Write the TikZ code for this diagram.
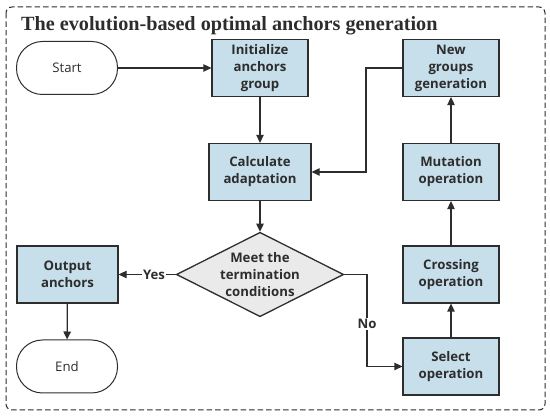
\documentclass[tikz,border=0pt]{standalone}
\usepackage{fontspec}
\setmainfont{Liberation Serif}
\newfontfamily\boxfont{Open Sans}
\usetikzlibrary{shapes.geometric,arrows.meta}
\definecolor{boxblue}{RGB}{199,223,234}
\definecolor{diagray}{RGB}{234,234,234}
\definecolor{ink}{RGB}{45,45,45}
\tikzset{
  x=1pt,y=-1pt,
  proc/.style={draw=ink,line width=1.3pt,fill=boxblue,minimum width=96pt,minimum height=57pt,align=center,inner sep=1pt,font=\boxfont\bfseries\fontsize{13.2}{17}\selectfont,text=ink},
  term/.style={draw=ink,line width=1pt,rounded corners=26pt,minimum width=101pt,minimum height=53pt,align=center,font=\boxfont\fontsize{13.2}{17}\selectfont,text=ink},
  deci/.style={draw=ink,line width=1.3pt,fill=diagray,diamond,aspect=1.98,inner sep=0pt,minimum width=164pt,minimum height=83pt,align=center,font=\boxfont\bfseries\fontsize{13.2}{17}\selectfont,text=ink},
  conn/.style={draw=ink,line width=1.3pt,-{Triangle[length=8pt,width=7.5pt]}},
  lbl/.style={fill=white,inner sep=1pt,font=\boxfont\bfseries\fontsize{13.2}{15}\selectfont,text=ink}
}
\begin{document}
\begin{tikzpicture}
\useasboundingbox (0,0) rectangle (550,419);
\draw[ink,line width=1pt,dash pattern=on 5.5pt off 3pt,rounded corners=6pt] (6,7) rectangle (545,410);
\node[anchor=base west,font=\bfseries\fontsize{20.2}{22}\selectfont,text=ink,inner sep=0pt] (title) at (21,31) {The evolution-based optimal anchors generation};
\node[term] (start) at (67,68) {Start};
\node[proc] (init) at (260,68) {Initialize\\anchors\\group};
\node[proc] (newg) at (451,68) {New\\groups\\generation};
\node[proc,minimum width=102pt] (calc) at (260,172) {Calculate\\adaptation};
\node[proc] (mut) at (451,172) {Mutation\\operation};
\node[deci] (dec) at (260,274.5) {Meet the\\termination\\conditions};
\node[proc,minimum width=101pt] (out) at (67.5,274.5) {Output\\anchors};
\node[proc] (cross) at (451,274.5) {Crossing\\operation};
\node[term] (end) at (67,366.5) {End};
\node[proc] (sel) at (451,366.5) {Select\\operation};
\coordinate (c1) at (366,68);
\coordinate (c2) at (367,274.5);
\draw[conn] (start) -- (init);
\draw[conn] (init) -- (calc);
\draw[conn] (calc) -- (dec);
\draw[conn] (newg.west) -- (c1) |- (calc.east);
\draw[conn] (dec.west) -- node[lbl,pos=0.38]{Yes} (out.east);
\draw[conn] (out) -- (end);
\draw[conn] (dec.east) -- (c2) |- node[lbl,pos=0.27]{No} (sel.west);
\draw[conn] (sel) -- (cross);
\draw[conn] (cross) -- (mut);
\draw[conn] (mut) -- (newg);
\end{tikzpicture}
\end{document}
